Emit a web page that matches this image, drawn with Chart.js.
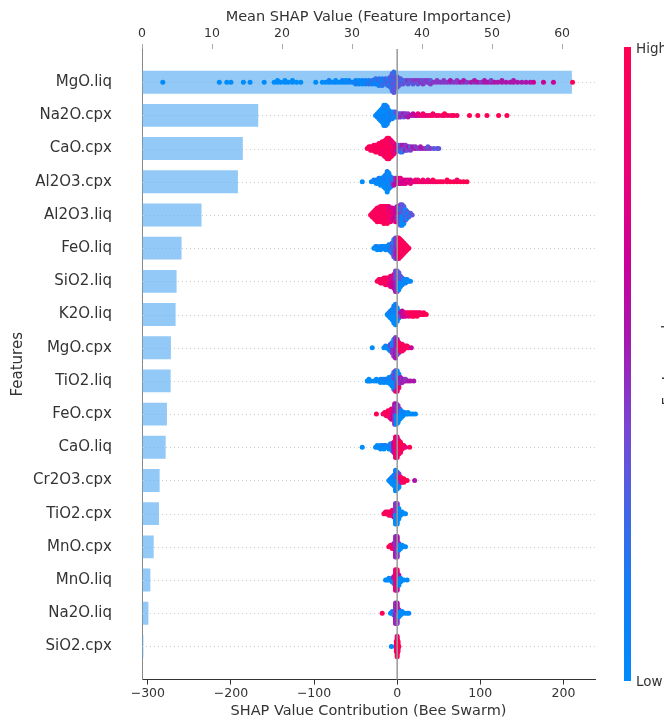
<!DOCTYPE html>
<html><head><meta charset="utf-8">
<script src="https://cdn.jsdelivr.net/npm/chart.js@4.4.1/dist/chart.umd.min.js"></script>
<style>html,body{margin:0;padding:0;background:#fff}#wrap{width:664px;height:720px;position:relative}</style>
</head><body><div id="wrap"><canvas id="c" width="664" height="720"></canvas></div>
<script>
// ---------- data ----------
const features = ["MgO.liq","Na2O.cpx","CaO.cpx","Al2O3.cpx","Al2O3.liq","FeO.liq","SiO2.liq","K2O.liq","MgO.cpx","TiO2.liq","FeO.cpx","CaO.liq","Cr2O3.cpx","TiO2.cpx","MnO.cpx","MnO.liq","Na2O.liq","SiO2.cpx"];
const meanShap = [61.4,16.6,14.4,13.7,8.5,5.65,4.94,4.8,4.13,4.09,3.56,3.38,2.52,2.42,1.67,1.19,0.91,0.2];
const bottomTicks = [-300,-200,-100,0,100,200];
const topTicks = [0,10,20,30,40,50,60];
const colorbarLabels = ["High","Low"];

// Bee swarm: [SHAP value, feature-value levels (0 = low ... 9 = high), one digit per point]
const sw_MgO_liq = [[-282,"0"],[-214,"0"],[-205,"0"],[-200,"0"],[-185,"0"],[-177,"0"],[-160,"0"],
 [-148,"0"],[-144,"00"],[-140,"0"],[-135,"00"],[-131,"0"],[-126,"00"],[-121,"0"],[-116,"0"],
 [-98,"0"],[-90,"0"],[-86,"0"],[-82,"01"],[-78,"0"],[-74,"10"],[-70,"0"],[-66,"01"],[-62,"10"],[-58,"01"],[-54,"1"],
 [-50,"011"],[-46,"101"],[-42,"110"],[-38,"011"],[-34,"112"],[-30,"121"],[-26,"2112"],[-22,"12121"],[-18,"21212"],
 [-14,"1223"],[-11,"22312"],[-8,"3223132"],[-6,"32323123232"],[-4,"2332332332323"],[-2,"32333"],[0,"3323233"],
 [2,"33323"],[4,"3233"],[7,"323"],[10,"33"],[13,"343"],[16,"33"],[19,"343"],[22,"34"],[25,"343"],[28,"44"],[31,"434"],
 [34,"34"],[37,"44"],[40,"434"],[44,"4"],[48,"44"],[52,"4"],[56,"44"],[60,"4"],[64,"45"],[68,"4"],[72,"44"],[76,"5"],
 [80,"45"],[84,"4"],[89,"5"],[93,"45"],[97,"5"],[101,"4"],[105,"55"],[109,"5"],[113,"54"],[117,"5"],[121,"5"],
 [126,"55"],[131,"5"],[136,"5"],[140,"55"],[145,"5"],[150,"5"],[155,"5"],[160,"5"],[164,"6"],[176,"6"],[188,"6"],[211,"9"]];
const sw_Na2O_cpx = [[-26,"0"],[-24,"010"],[-22,"00101"],[-20,"0010100"],[-18,"010010100"],[-16,"0100101001010"],
 [-14,"0010100101001"],[-12,"01001010010"],[-10,"0101001"],[-8,"01021"],[-6,"10201"],[-4,"0210"],[-2,"1203"],[0,"231"],
 [2,"324"],[4,"434"],[6,"54"],[8,"453"],[10,"54"],[13,"545"],[16,"5"],[19,"56"],[22,"6"],[25,"67"],[28,"7"],[31,"78"],
 [34,"8"],[37,"7"],[40,"8"],[43,"88"],[47,"8"],[50,"8"],[54,"8"],[57,"89"],[61,"8"],[65,"8"],[68,"9"],[72,"8"],
 [87,"9"],[97,"9"],[108,"9"],[122,"9"],[132,"9"]];
const sw_CaO_cpx = [[-36,"9"],[-34,"98"],[-32,"898"],[-30,"989"],[-28,"8989"],[-26,"98989"],[-24,"89898"],[-22,"989898"],
 [-20,"8989898"],[-18,"98989898"],[-16,"898989898"],[-14,"89898989898"],[-12,"9898989898989"],[-10,"8989898989898"],
 [-8,"98989898989"],[-6,"897989879"],[-4,"7898787"],[-2,"78767"],[0,"6757"],[2,"5642"],[4,"45232"],[6,"23452"],
 [8,"3425"],[10,"4354"],[12,"543"],[14,"45"],[16,"534"],[19,"45"],[22,"54"],[25,"4"],[28,"45"],[31,"5"],[34,"4"],
 [37,"43"],[40,"4"],[44,"3"],[48,"3"],[50,"3"]];
const sw_Al2O3_cpx = [[-42,"0"],[-31,"0"],[-28,"01"],[-25,"010"],[-22,"0101"],[-20,"01010"],[-18,"1010"],[-16,"0101010"],
 [-14,"010101010"],[-12,"0101010101010"],[-10,"1010101010"],[-8,"0102010"],[-6,"21312"],[-4,"31425"],[-2,"5364"],
 [0,"4657"],[2,"5676"],[4,"6567"],[7,"676"],[10,"767"],[13,"67"],[16,"767"],[19,"7"],[22,"78"],[25,"87"],[28,"8"],
 [31,"78"],[34,"8"],[37,"87"],[40,"8"],[43,"89"],[46,"8"],[49,"9"],[52,"8"],[55,"9"],[60,"89"],[64,"9"],[68,"9"],
 [72,"98"],[76,"9"],[80,"9"],[84,"9"]];
const sw_Al2O3_liq = [[-32,"9"],[-30,"898"],[-28,"98989"],[-26,"8989898"],[-24,"989898989"],[-22,"89898989"],
 [-20,"9898989898"],[-18,"8989898989"],[-16,"98989898989"],[-14,"8989898989"],[-12,"98989898989"],[-10,"8978978987"],
 [-8,"789878978"],[-6,"78767876"],[-4,"6787676"],[-2,"676565767"],[0,"5646564565"],[2,"46364536"],[4,"3434303430343"],
 [6,"0303030303030"],[8,"03030303030"],[10,"3030303"],[12,"03030"],[14,"303"],[16,"03"],[18,"3"]];
const sw_FeO_liq = [[-28,"0"],[-26,"00"],[-24,"010"],[-22,"0"],[-20,"010"],[-18,"10"],[-16,"01"],[-14,"101"],[-12,"010"],
 [-10,"0101"],[-8,"10301"],[-6,"0304030"],[-4,"40304030403"],[-2,"4534345434543"],[0,"5454545454545"],
 [2,"8989898989898"],[4,"98989898989"],[6,"898989898"],[8,"9898989"],[10,"89898"],[12,"989"],[14,"9"]];
const sw_SiO2_liq = [[-24,"9"],[-22,"98"],[-20,"989"],[-18,"898"],[-16,"9898"],[-14,"89898"],[-12,"98989"],[-10,"89787"],
 [-8,"7876787"],[-6,"6767676"],[-4,"676565676"],[-2,"5454545454545"],[0,"4343434343434"],[2,"34030403030"],
 [4,"0303030"],[6,"03030"],[8,"010"],[10,"101"],[12,"01"],[14,"0"],[16,"0"]];
const sw_K2O_liq = [[-12,"0"],[-10,"010"],[-8,"01010"],[-6,"0101010"],[-4,"01010101010"],[-2,"0101010101010"],
 [0,"010101010"],[2,"10301"],[4,"353"],[6,"5656"],[8,"656"],[10,"676"],[12,"78"],[14,"787"],[16,"89"],[18,"898"],
 [20,"989"],[22,"89"],[24,"989"],[26,"89"],[28,"98"],[30,"9"],[32,"89"],[35,"9"]];
const sw_MgO_cpx = [[-30,"0"],[-16,"0"],[-14,"01"],[-12,"0"],[-10,"010"],[-8,"04040"],[-6,"4040404"],[-4,"40404040404"],
 [-2,"5454545454545"],[0,"4545454545"],[2,"5848584"],[4,"89898"],[6,"98989"],[8,"898"],[10,"98"],[12,"89"],[14,"9"],[17,"6"]];
const sw_TiO2_liq = [[-36,"0"],[-34,"00"],[-32,"0"],[-28,"0"],[-25,"00"],[-22,"0"],[-20,"010"],[-18,"00"],[-16,"010"],
 [-14,"01"],[-12,"010"],[-10,"0101"],[-8,"01010"],[-6,"0101010"],[-4,"01040104010"],[-2,"0404040404048"],
 [0,"4040404040407"],[2,"404040408"],[4,"4545"],[6,"545"],[8,"45"],[10,"54"],[13,"5"],[16,"5"],[20,"5"]];
const sw_FeO_cpx = [[-25,"9"],[-17,"8"],[-15,"98"],[-13,"898"],[-11,"9898"],[-9,"89898"],[-7,"7878787"],[-5,"6767676"],
 [-3,"4545454545454"],[-1,"0405040504050"],[1,"04040404040"],[3,"0404040"],[5,"00000"],[7,"010"],[9,"01"],[11,"0"],
 [13,"00"],[16,"0"],[19,"0"],[22,"0"]];
const sw_CaO_liq = [[-42,"0"],[-26,"0"],[-24,"00"],[-22,"0"],[-20,"010"],[-18,"00"],[-16,"010"],[-14,"01"],[-12,"0"],
 [-10,"010"],[-8,"0101"],[-6,"01210"],[-4,"5656565"],[-2,"7878787878787"],[0,"8787878787878"],[2,"789787978"],
 [4,"8989898"],[6,"989"],[8,"89"],[10,"7"],[15,"9"]];
const sw_Cr2O3_cpx = [[-10,"0"],[-8,"010"],[-6,"01010"],[-4,"0101010"],[-2,"0101010101010"],[0,"01040104010"],
 [2,"040404040"],[4,"4848"],[6,"989"],[8,"898"],[10,"9"],[12,"9"],[21,"5"]];
const sw_TiO2_cpx = [[-16,"9"],[-14,"98"],[-12,"89"],[-10,"989"],[-8,"898"],[-6,"9898"],[-4,"78787"],[-2,"0404040404040"],
 [0,"0404040404040"],[2,"0400400"],[4,"000"],[6,"00"],[8,"0"],[10,"0"]];
const sw_MnO_cpx = [[-10,"9"],[-8,"89"],[-6,"989"],[-4,"8985"],[-2,"5454545454545"],[0,"4545454545454"],[2,"54540"],
 [4,"000"],[6,"00"],[8,"0"],[10,"0"]];
const sw_MnO_liq = [[-14,"0"],[-12,"0"],[-10,"00"],[-8,"0"],[-6,"010"],[-4,"05050"],[-2,"8787878787878"],
 [0,"5878587858785"],[2,"4545050"],[4,"000"],[6,"0"],[8,"0"],[12,"0"]];
const sw_Na2O_liq = [[-18,"9"],[-8,"0"],[-6,"01"],[-4,"010"],[-2,"5454545454545"],[0,"4545454545454"],[2,"45450"],
 [4,"000"],[6,"00"],[9,"0"],[12,"0"],[14,"0"]];
const sw_SiO2_cpx = [[-7,"0"],[-2,"0"],[-1,"8989898"],[0,"9898989898989"],[1,"8989898"],[2,"9"]];

const swarms = [sw_MgO_liq,sw_Na2O_cpx,sw_CaO_cpx,sw_Al2O3_cpx,sw_Al2O3_liq,sw_FeO_liq,sw_SiO2_liq,sw_K2O_liq,
 sw_MgO_cpx,sw_TiO2_liq,sw_FeO_cpx,sw_CaO_liq,sw_Cr2O3_cpx,sw_TiO2_cpx,sw_MnO_cpx,sw_MnO_liq,sw_Na2O_liq,sw_SiO2_cpx];

// ---------- colour map (blue -> purple -> red) ----------
const cstops = [[0,[0,139,251]],[0.15,[20,125,245]],[0.3,[80,95,225]],[0.4,[120,70,210]],[0.54,[165,25,175]],
 [0.66,[202,0,152]],[0.8,[235,0,120]],[1,[255,0,82]]];
function cmap(t){
  for(let i=1;i<cstops.length;i++){
    if(t<=cstops[i][0]){
      const [t0,c0]=cstops[i-1],[t1,c1]=cstops[i];
      const f=(t-t0)/(t1-t0);
      return 'rgb('+c0.map((c,k)=>Math.round(c+(c1[k]-c)*f)).join(',')+')';
    }
  }
  return 'rgb(255,0,82)';
}

// ---------- build swarm points (shap-style layering within each x bin) ----------
const pts=[], cols=[];
swarms.forEach((row,i)=>{
  let M=0;
  row.forEach(([v,s])=>{M=Math.max(M,Math.ceil((s.length-1)/2));});
  const step=0.36/(M+1);
  row.forEach(([v,s])=>{
    for(let k=0;k<s.length;k++){
      const ys=Math.ceil(k/2)*((k%2)*2-1);
      pts.push({x:v,y:i-ys*step});
      cols.push(cmap(+s[k]/9));
    }
  });
});
const bars = meanShap.map((v,i)=>({x:v,y:i}));

const FONT='DejaVu Sans';
const fmt=v=>v<0?'\u2212'+Math.abs(v):String(v);

const deco={
  id:'deco',
  beforeDatasetsDraw(chart){
    const {ctx,chartArea:a,scales:{y}}=chart;
    ctx.save();
    ctx.strokeStyle='#cccccc';ctx.lineWidth=1;ctx.setLineDash([1,3]);
    features.forEach((f,i)=>{
      const py=Math.round(y.getPixelForValue(i))+0.5;
      ctx.beginPath();ctx.moveTo(a.left,py);ctx.lineTo(a.right,py);ctx.stroke();
    });
    ctx.restore();
  },
  afterDatasetsDraw(chart){
    const {ctx,chartArea:a,scales:{x}}=chart;
    const px=x.getPixelForValue(0);
    ctx.save();ctx.strokeStyle='#999999';ctx.lineWidth=1.5;
    ctx.beginPath();ctx.moveTo(px,a.top);ctx.lineTo(px,a.bottom);ctx.stroke();ctx.restore();
  },
  afterDraw(chart){
    const {ctx}=chart;
    const top=47,bot=681,x0=624,w=7;
    const g=ctx.createLinearGradient(0,bot,0,top);
    cstops.forEach(([t,c])=>g.addColorStop(t,'rgb('+c.join(',')+')'));
    ctx.save();
    ctx.fillStyle=g;ctx.fillRect(x0,top,w,bot-top);
    ctx.fillStyle='#333';ctx.font='13.5px "'+FONT+'"';ctx.textAlign='left';ctx.textBaseline='middle';
    ctx.fillText(colorbarLabels[0],x0+w+5,top+2);
    ctx.fillText(colorbarLabels[1],x0+w+5,bot+1);
    ctx.translate(672,356);ctx.rotate(-Math.PI/2);ctx.textAlign='center';ctx.textBaseline='alphabetic';
    ctx.font='14.5px "'+FONT+'"';
    ctx.fillText('Feature value',0,0);
    ctx.restore();
  }
};

new Chart(document.getElementById('c'),{
  type:'scatter',
  data:{datasets:[
    {type:'scatter',data:pts,xAxisID:'x',yAxisID:'y',pointRadius:2.5,pointHoverRadius:2.5,
     pointBackgroundColor:cols,pointBorderWidth:0,borderWidth:0,order:0},
    {type:'bar',data:bars,indexAxis:'y',xAxisID:'x2',yAxisID:'y',backgroundColor:'rgba(100,178,242,0.7)',
     borderWidth:0,barPercentage:0.69,categoryPercentage:1,grouped:false,order:1}
  ]},
  options:{
    responsive:false,animation:false,devicePixelRatio:1,
    layout:{padding:{left:0,right:69,top:0,bottom:0}},
    plugins:{legend:{display:false},tooltip:{enabled:false}},
    scales:{
      x:{type:'linear',position:'bottom',min:-307,max:238,offset:false,
        afterBuildTicks:s=>{s.ticks=bottomTicks.map(v=>({value:v}));},
        afterFit:s=>{s.height=40.4;},
        grid:{offset:false,drawOnChartArea:false,drawTicks:true,tickLength:5,color:'#333'},
        border:{display:true,color:'#333',width:1},
        ticks:{callback:fmt,color:'#333',font:{family:FONT,size:12.5},padding:2,maxRotation:0,autoSkip:false},
        title:{display:true,text:'SHAP Value Contribution (Bee Swarm)',color:'#333',font:{family:FONT,size:14.5},padding:{top:0,bottom:0}}
      },
      x2:{type:'linear',position:'top',min:0,max:64.7,offset:false,
        afterBuildTicks:s=>{s.ticks=topTicks.map(v=>({value:v}));},
        afterFit:s=>{s.height=49;},
        grid:{offset:false,drawOnChartArea:false,drawTicks:true,tickLength:5,color:'#aaa'},
        border:{display:false},
        ticks:{color:'#333',font:{family:FONT,size:12.5},padding:3,maxRotation:0,autoSkip:false},
        title:{display:true,text:'Mean SHAP Value (Feature Importance)',color:'#333',font:{family:FONT,size:14.5},padding:{top:9,bottom:0}}
      },
      y:{type:'linear',reverse:true,min:-1,max:18,offset:false,
        afterBuildTicks:s=>{s.ticks=features.map((f,i)=>({value:i}));},
        afterFit:s=>{s.width=142;},
        grid:{offset:false,display:false,drawTicks:false},
        border:{display:true,color:'#888',width:1},
        ticks:{callback:v=>features[v],color:'#333',font:{family:FONT,size:15},padding:30,autoSkip:false},
        title:{display:true,text:'Features',color:'#333',font:{family:FONT,size:15},padding:{top:9,bottom:0}}
      }
    }
  },
  plugins:[deco]
});
</script></body></html>
